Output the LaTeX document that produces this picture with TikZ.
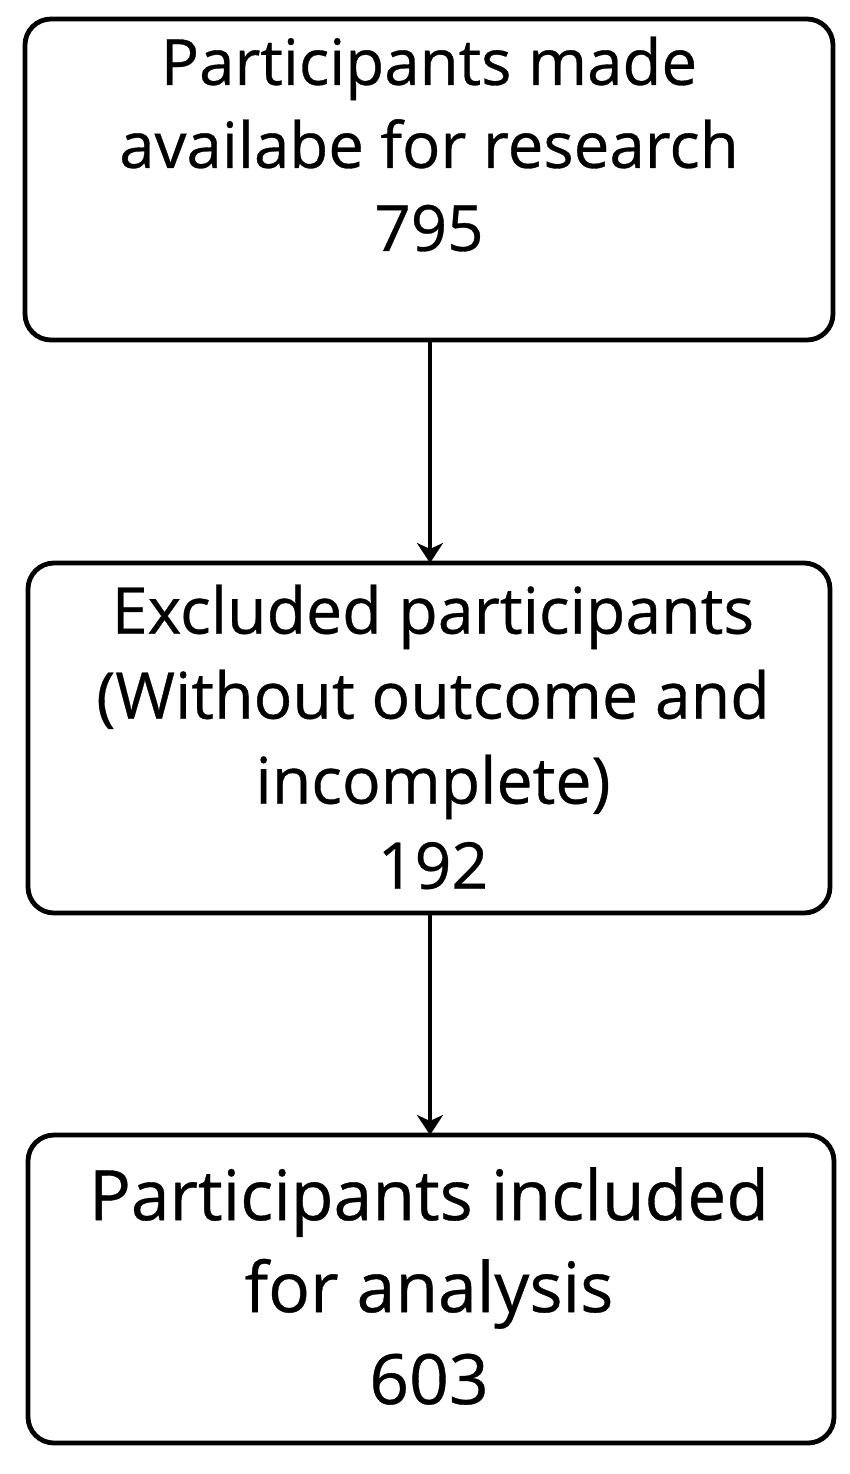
\documentclass[tikz,border=0pt]{standalone}
\usepackage{fontspec}
\setmainfont{Open Sans}[FakeBold=0.5]
\usetikzlibrary{arrows.meta,positioning}

\tikzset{
    stepbox/.style={draw, line width=2.4pt, rounded corners=13pt, outer sep=0pt, inner sep=0pt},
    steptext/.style={align=center, inner sep=0pt},
    flowarrow/.style={-{Stealth[length=10pt,width=13pt,inset=3pt]}, line width=2pt}
}

\begin{document}
\begin{tikzpicture}[x=0.5pt,y=-0.5pt]
    % page
    \fill[white] (0,0) rectangle (850,1474);
    \useasboundingbox (0,0) rectangle (850,1474);

    % boxes
    \node[stepbox, minimum width=404pt, minimum height=160.5pt] (avail) at (429,179.5) {};
    \node[stepbox, minimum width=401pt, minimum height=175pt] (excl) at (429,738) {};
    \node[stepbox, minimum width=403pt, minimum height=154pt] (incl) at (431,1289) {};

    % texts
    \node[steptext, font=\fontsize{31.8}{41.5}\selectfont] (availtxt) at (429,144)
        {Participants made\\availabe for research\\795};
    \node[steptext, font=\fontsize{32.2}{42.5}\selectfont] (excltxt) at (433,737)
        {Excluded participants\\(Without outcome and\\incomplete)\\192};
    \node[steptext, font=\fontsize{34.8}{46}\selectfont] (incltxt) at (429,1286)
        {Participants included\\for analysis\\603};

    % arrows
    \draw[flowarrow] (avail.south -| 430,0) -- (excl.north -| 430,0);
    \draw[flowarrow] (excl.south -| 430,0) -- (incl.north -| 430,0);
\end{tikzpicture}
\end{document}
